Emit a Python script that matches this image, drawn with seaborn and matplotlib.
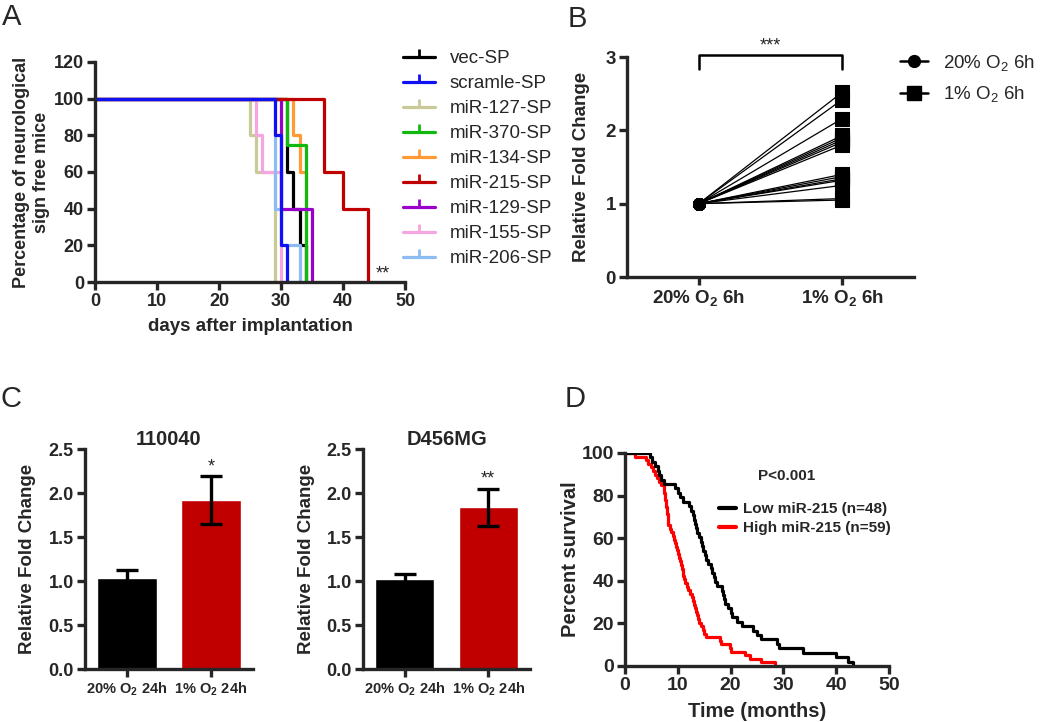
import numpy as np
import pandas as pd
import matplotlib
matplotlib.use('Agg')
import matplotlib.pyplot as plt
import seaborn as sns
from matplotlib.lines import Line2D

#==================== PANEL A: day of first neurological sign, one value per mouse ====================
grupos_a = ['vec-SP', 'scramle-SP', 'miR-127-SP', 'miR-370-SP', 'miR-134-SP',
            'miR-215-SP', 'miR-129-SP', 'miR-155-SP', 'miR-206-SP']
cores_a = ['#000000', '#1010F5', '#CACA98', '#10B810', '#FF9A35',
           '#C00000', '#9A00CC', '#F5A5DF', '#8CBCF2']
dias_vec = [31, 31, 32, 33, 34]
dias_scramle = [29, 30, 30, 30, 31]
dias_127 = [25, 26, 29, 29, 29]
dias_370 = [31, 34, 34, 34]
dias_134 = [32, 33, 34, 34, 34]
dias_215 = [37, 37, 40, 44, 44]
dias_129 = [30, 30, 30, 35, 35]
dias_155 = [26, 27, 30, 30, 30]
dias_206 = [29, 29, 29, 30, 33]
ordem_desenho_a = ['vec-SP', 'miR-127-SP', 'miR-155-SP', 'miR-206-SP', 'miR-134-SP',
                   'miR-370-SP', 'miR-129-SP', 'miR-215-SP', 'scramle-SP']

#==================== PANEL B: paired fold change ====================
cond_b = ['20% O2 6h', '1% O2 6h']
fold_20_b = [1.00, 1.00, 1.00, 1.00, 1.00, 1.00, 1.00, 1.00, 1.00, 1.00, 1.00, 1.00, 1.00, 1.00, 1.00]
fold_1_b = [2.52, 2.42, 2.16, 1.93, 1.90, 1.87, 1.84, 1.80, 1.40, 1.37, 1.34, 1.32, 1.25, 1.07, 1.05]
rotulos_b = ['20% O$\\mathregular{_2}$ 6h', '1% O$\\mathregular{_2}$ 6h']

#==================== PANEL C: bars ====================
cond_c = ['20% O2 24h', '1% O2 24h']
rotulos_c = ['20% O$\\mathregular{_2}$ 24h', '1% O$\\mathregular{_2}$ 24h']
fold_110040 = [1.03, 1.92]
erro_110040 = [0.10, 0.27]
fold_d456 = [1.02, 1.84]
erro_d456 = [0.06, 0.21]

#==================== PANEL D: months to death, one value per patient ====================
meses_low = [4.7, 5.2, 5.7, 6.2, 6.5, 6.8, 7.3, 9.5, 10.0, 10.5, 11.0, 12.2,
             12.5, 12.9, 13.1, 13.3, 13.5, 13.7, 14.0, 14.3, 14.6, 14.8, 15.1, 15.4,
             15.8, 16.2, 16.5, 16.8, 17.0, 17.4, 18.3, 18.5, 18.8, 19.0, 19.5, 20.0,
             20.3, 21.3, 22.2, 24.2, 25.0, 25.8, 28.8, 29.2, 33.8, 40.0, 42.3, 43.2]
meses_high = [1.9, 4.0, 4.4, 4.9, 5.3, 5.6, 6.0, 6.4, 6.8, 7.3, 7.4, 7.5,
              7.6, 7.7, 7.8, 7.9, 8.0, 8.05, 8.1, 8.2, 8.5, 8.8, 9.0, 9.3,
              9.5, 9.7, 9.9, 10.1, 10.3, 10.5, 10.7, 10.8, 10.9, 11.0, 11.1, 11.3,
              11.7, 12.0, 12.3, 12.6, 12.9, 13.1, 13.3, 13.5, 13.7, 13.9, 14.1, 14.4,
              14.7, 15.0, 15.3, 18.0, 18.2, 19.8, 20.1, 22.8, 23.7, 25.8, 28.5]
grupos_d = ['Low miR-215 (n=48)', 'High miR-215 (n=59)']
cores_d = ['#000000', '#FF0000']

sns.set_style('ticks')
plt.rcParams['font.family'] = ['Liberation Sans', 'DejaVu Sans']
plt.rcParams['font.weight'] = 'bold'
plt.rcParams['axes.labelweight'] = 'bold'
plt.rcParams['axes.titleweight'] = 'bold'

fig = plt.figure(figsize=(10.5, 7.22), dpi=100)


def estilo(ax, tamanho):
    sns.despine(ax=ax)
    ax.spines['left'].set_linewidth(2.4)
    ax.spines['bottom'].set_linewidth(2.4)
    ax.tick_params(width=2.4, length=6, labelsize=tamanho, direction='out', pad=2)
    for t in ax.get_xticklabels() + ax.get_yticklabels():
        t.set_fontweight('bold')


def inicio_em_zero(ax):
    # ecdf lines start at -inf; pin that first point to the left edge so the 100% run is drawn
    for linha in ax.lines:
        x = np.asarray(linha.get_xdata(), dtype=float)
        linha.set_xdata(np.where(np.isfinite(x), x, 0))


#============================== A ==============================
axA = fig.add_axes([95/1050, 1-282/722, 310/1050, 220/722])
dias = {'vec-SP': dias_vec, 'scramle-SP': dias_scramle, 'miR-127-SP': dias_127,
        'miR-370-SP': dias_370, 'miR-134-SP': dias_134, 'miR-215-SP': dias_215,
        'miR-129-SP': dias_129, 'miR-155-SP': dias_155, 'miR-206-SP': dias_206}
tabela_a = pd.concat([pd.DataFrame({'grupo': g, 'dia': dias[g]}) for g in grupos_a], ignore_index=True)
cor_de = dict(zip(grupos_a, cores_a))
for g in ordem_desenho_a:
    sns.ecdfplot(data=tabela_a[tabela_a['grupo'] == g], x='dia', complementary=True,
                 stat='percent', color=cor_de[g], lw=2.3, ax=axA)
inicio_em_zero(axA)
axA.set_xlim(0, 50)
axA.set_ylim(0, 120)
axA.set_xticks(range(0, 51, 10))
axA.set_yticks(range(0, 121, 20))
axA.set_xlabel('days after implantation', fontsize=13.5)
axA.set_ylabel('Percentage of neurological\nsign free mice', fontsize=13)
estilo(axA, 13)
axA.xaxis.set_label_coords(0.5, -0.165)
axA.yaxis.set_label_coords(-0.145, 0.5)
axA.text(46.5, 0, '**', ha='center', va='bottom', fontsize=13, fontweight='normal')
handles_a = [Line2D([], [], color=c, lw=2.3, marker=2, markersize=6, markeredgewidth=2) for c in cores_a]
leg = axA.legend(handles_a, grupos_a, loc='upper left', bbox_to_anchor=(403/1050, 1-50/722),
                 bbox_transform=fig.transFigure, frameon=False, fontsize=13.5, handlelength=1.7,
                 handletextpad=0.8, labelspacing=0.42, borderpad=0, borderaxespad=0)
for t in leg.get_texts():
    t.set_fontweight('normal')

#============================== B ==============================
axB = fig.add_axes([627/1050, 1-277/722, 287/1050, 220/722])
tabela_b = pd.DataFrame({
    'par': list(range(len(fold_20_b))) * 2,
    'cond': [cond_b[0]] * len(fold_20_b) + [cond_b[1]] * len(fold_1_b),
    'fold': fold_20_b + fold_1_b,
})
tabela_b['cond'] = pd.Categorical(tabela_b['cond'], categories=cond_b, ordered=True)
sns.lineplot(data=tabela_b, x='cond', y='fold', units='par', estimator=None,
             color='black', lw=0.9, sort=False, ax=axB)
sns.scatterplot(data=tabela_b[tabela_b['cond'] == cond_b[0]], x='cond', y='fold', marker='o',
                s=75, color='black', edgecolor='black', zorder=5, ax=axB)
sns.scatterplot(data=tabela_b[tabela_b['cond'] == cond_b[1]], x='cond', y='fold', marker='s',
                s=95, color='black', edgecolor='black', zorder=5, ax=axB)
axB.set_xlim(-0.5, 1.5)
axB.set_ylim(0, 3)
axB.set_yticks([0, 1, 2, 3])
axB.set_xticks([0, 1])
axB.set_xticklabels(rotulos_b)
axB.set_xlabel('')
axB.set_ylabel('Relative Fold Change', fontsize=13.5)
estilo(axB, 13.5)
axB.yaxis.set_label_coords(-0.13, 0.5)
axB.plot([0, 0, 1, 1], [2.83, 3.03, 3.03, 2.83], color='black', lw=1.8, clip_on=False)
axB.text(0.5, 3.03, '***', ha='center', va='bottom', fontsize=13, fontweight='normal')
handles_b = [Line2D([], [], color='black', lw=1.8, marker='o', markersize=8.5),
             Line2D([], [], color='black', lw=1.8, marker='s', markersize=9.5)]
leg_b = axB.legend(handles_b, rotulos_b, loc='upper left', bbox_to_anchor=(900/1050, 1-53/722),
                   bbox_transform=fig.transFigure, frameon=False, fontsize=13.5, handlelength=1.5,
                   handletextpad=0.8, labelspacing=0.6, borderpad=0, borderaxespad=0)
for t in leg_b.get_texts():
    t.set_fontweight('normal')

#============================== C ==============================
paineis_c = [(85, 168, fold_110040, erro_110040, '110040', -0.294, '*', 2.2),
             (363, 167, fold_d456, erro_d456, 'D456MG', -0.287, '**', 2.06)]
for esq, larg, fold, erro, titulo, xlab, estrelas, y_estrela in paineis_c:
    ax = fig.add_axes([esq/1050, 1-669/722, larg/1050, 220/722])
    sns.barplot(x=cond_c, y=fold, hue=cond_c, palette=['#000000', '#C00000'],
                width=0.71, saturation=1, legend=False, ax=ax)
    ax.errorbar(x=[0, 1], y=fold, yerr=erro, fmt='none', ecolor='black',
                elinewidth=2.4, capsize=8, capthick=2.4)
    ax.set_xlim(-0.5, 1.5)
    ax.set_ylim(0, 2.5)
    ax.set_yticks(np.arange(0, 2.51, 0.5))
    ax.set_yticklabels(['%.1f' % v for v in np.arange(0, 2.51, 0.5)])
    ax.set_xticks([0, 1])
    ax.set_xticklabels(rotulos_c)
    ax.set_ylabel('Relative Fold Change', fontsize=13.5)
    estilo(ax, 13)
    ax.tick_params(axis='x', labelsize=10.5)
    ax.yaxis.set_label_coords(xlab, 0.5)
    ax.set_title(titulo, fontsize=14.5, pad=-2)
    ax.text(1, y_estrela, estrelas, ha='center', va='bottom', fontsize=13, fontweight='normal')

#============================== D ==============================
axD = fig.add_axes([625/1050, 1-666/722, 264/1050, 213/722])
tabela_d = pd.concat([pd.DataFrame({'grupo': grupos_d[0], 'mes': meses_low}),
                      pd.DataFrame({'grupo': grupos_d[1], 'mes': meses_high})], ignore_index=True)
sns.ecdfplot(data=tabela_d, x='mes', hue='grupo', complementary=True, stat='percent',
             palette=cores_d, lw=2.3, legend=False, ax=axD)
inicio_em_zero(axD)
axD.set_xlim(0, 50)
axD.set_ylim(0, 100)
axD.set_xticks(range(0, 51, 10))
axD.set_yticks(range(0, 101, 20))
axD.set_xlabel('Time (months)', fontsize=14.5)
axD.set_ylabel('Percent survival', fontsize=14.5)
estilo(axD, 14)
axD.xaxis.set_label_coords(0.5, -0.17)
axD.yaxis.set_label_coords(-0.17, 0.5)
axD.text(787/1050, 1-476/722, 'P<0.001', transform=fig.transFigure, ha='center', va='center', fontsize=11)
handles_d = [Line2D([], [], color=c, lw=3) for c in cores_d]
axD.legend(handles_d, grupos_d, loc='upper left', bbox_to_anchor=(719/1050, 1-502/722),
           bbox_transform=fig.transFigure, frameon=False, fontsize=11, handlelength=1.1,
           handletextpad=0.5, labelspacing=0.33, borderpad=0, borderaxespad=0)

#============================== letters ==============================
for letra, x, y in [('A', 2, 3), ('B', 568, 5), ('C', 0, 385), ('D', 565, 385)]:
    fig.text(x/1050, 1-y/722, letra, ha='left', va='top', fontsize=21, fontweight='normal')

fig.savefig('out.png', dpi=100)
